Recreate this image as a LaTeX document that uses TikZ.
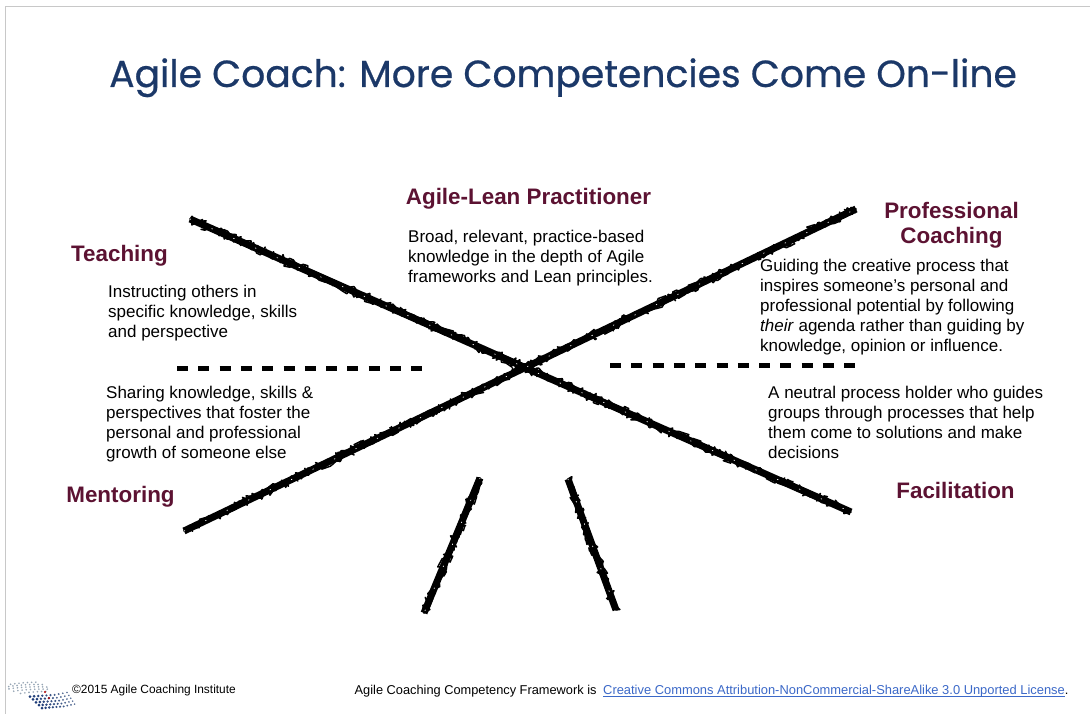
\documentclass[tikz,border=0pt]{standalone}
\usepackage{fontspec}
\setmainfont{Liberation Sans}
\newfontfamily\titlefont{Poppins}[FakeBold=0.6]
\usetikzlibrary{decorations.pathmorphing}
\definecolor{titleblue}{RGB}{27,56,104}
\definecolor{headred}{RGB}{92,18,50}
\definecolor{framegray}{RGB}{200,200,200}
\definecolor{linkblue}{RGB}{60,105,200}
\definecolor{logolight}{RGB}{150,165,180}
\definecolor{logodark}{RGB}{30,60,120}
\tikzset{
  x=1pt,y=-1pt,
  head/.style={font=\fontsize{22.4}{25}\selectfont\bfseries,text=headred,align=center,inner sep=0pt},
  body/.style={font=\fontsize{17}{20}\selectfont,text=black,align=left,anchor=north west,inner sep=0pt},
  foot/.style={text=black,anchor=base west,inner sep=0pt},
  core/.style={line width=7pt,black},
  rough/.style={line width=1.5pt,black,line join=round,line cap=round,decorate,decoration={random steps,segment length=3pt,amplitude=5pt}},
  speck/.style={line width=0.7pt,white,line cap=round,dash pattern=on 0.8pt off 23pt},
  rule/.style={line width=5.5pt,black,dash pattern=on 11pt off 10.3pt}
}
\pgfmathsetseed{7}
\begin{document}
\begin{tikzpicture}
\useasboundingbox (0,0) rectangle (1090,714);
\fill[white] (0,0) rectangle (1090,714);
\draw[framegray,line width=1.5pt] (5.5,714) -- (5.5,6.5) -- (1090,6.5);
\node[anchor=base west,inner sep=0pt,text=titleblue,font=\fontsize{37.7}{44}\selectfont\titlefont] (title) at (109,87) {Agile Coach: More Competencies Come On-line};
\node[head] (alp) at (528.5,199) {Agile-Lean Practitioner};
\node[head] (pc) at (951.5,225) {Professional\\Coaching};
\node[head] (teach) at (119.5,256) {Teaching};
\node[head] (ment) at (120.5,496.5) {Mentoring};
\node[head] (fac) at (955.5,490.5) {Facilitation};
\node[body] (t1) at (408,229.5) {Broad, relevant, practice-based\\knowledge in the depth of Agile\\frameworks and Lean principles.};
\node[body] (t2) at (108,284.5) {Instructing others in\\specific knowledge, skills\\and perspective};
\node[body] (t3) at (760,259) {Guiding the creative process that\\inspires someone’s personal and\\professional potential by following\\\textit{their} agenda rather than guiding by\\knowledge, opinion or influence.};
\node[body] (t4) at (106,386) {Sharing knowledge, skills \&\\perspectives that foster the\\personal and professional\\growth of someone else};
\node[body] (t5) at (768,386) {A neutral process holder who guides\\groups through processes that help\\them come to solutions and make\\decisions};
\coordinate (a1) at (190,219); \coordinate (a2) at (851,512);
\coordinate (b1) at (184,531); \coordinate (b2) at (856,209);
\coordinate (c1) at (480,478); \coordinate (c2) at (424,613);
\coordinate (d1) at (568,479); \coordinate (d2) at (616,610);
\coordinate (e1) at (177,368.5); \coordinate (e2) at (423,368.5);
\coordinate (f1) at (610,365.5); \coordinate (f2) at (856,365.5);
\foreach \p/\q in {a1/a2,b1/b2,c1/c2,d1/d2}{
  \draw[core] (\p) -- (\q);
  \draw[rough] (\p) -- (\q);
  \draw[rough] (\q) -- (\p);
  \draw[speck] (\p) -- (\q);
}
\draw[rule] (e1) -- (e2);
\draw[rule] (f1) -- (f2);
% logo
\foreach \j/\n in {0/7,1/9,2/10,3/9,4/7}{
  \pgfmathtruncatemacro{\m}{\n-1}
  \foreach \i in {0,...,\m}{
    \pgfmathsetmacro{\px}{(26-\n*2.2)+\j*2.5+\i*4.2}
    \pgfmathsetmacro{\py}{682.5+\j*2.3+0.012*(\i-4)*(\i-4)*4+(4-\i)*0.25}
    \fill[logolight] (\px,\py) circle (0.9);
  }
}
\foreach \j in {0,...,4}{
  \foreach \i in {0,...,9}{
    \pgfmathsetmacro{\px}{30+\j*3+\i*(4.1-\j*0.12)}
    \pgfmathsetmacro{\py}{696.5+\j*2.9-\i*0.28-(\i>6?(\i-6)*0.5:0)}
    \pgfmathsetmacro{\rr}{1.5-\i*0.07}
    \pgfmathtruncatemacro{\sh}{100-\i*5}
    \fill[logodark!\sh!logolight] (\px,\py) circle (\rr);
  }
}
\fill[red!70!black] (45,692) circle (1.2); \fill[red!70!black] (49,698) circle (1.2);
\node[foot,font=\fontsize{11.9}{15}\selectfont] (c) at (72,693) {©2015 Agile Coaching Institute};
\node[foot,font=\fontsize{12.8}{15}\selectfont] (f) at (354.5,694.5) {Agile Coaching Competency Framework is};
\node[foot,text=linkblue,font=\fontsize{12.9}{15}\selectfont] (l) at (603,694.5) {\underbar{Creative Commons Attribution-NonCommercial-ShareAlike 3.0 Unported License}\textcolor{black}{.}};
\end{tikzpicture}
\end{document}
